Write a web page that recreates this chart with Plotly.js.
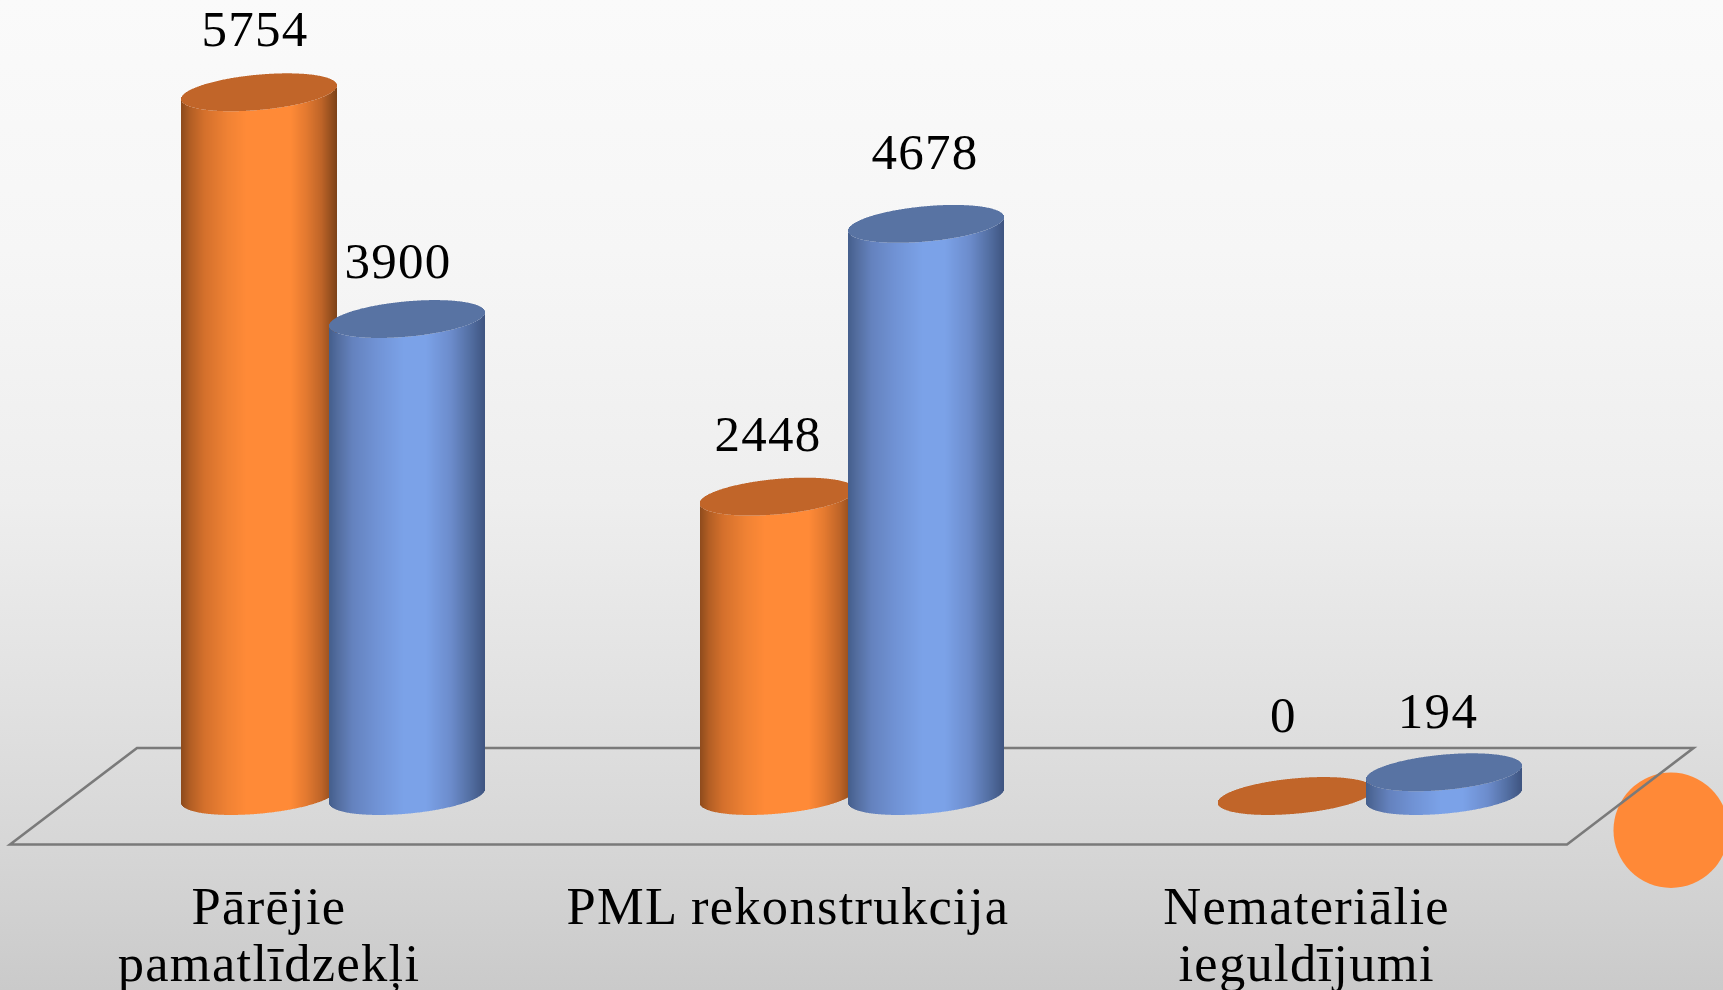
<!DOCTYPE html>
<html><head><meta charset="utf-8">
<script src="https://cdn.plot.ly/plotly-3.0.1.min.js"></script>
<style>
html,body{margin:0;padding:0;width:1723px;height:990px;overflow:hidden;
background:linear-gradient(180deg,#fafafa 0px,#f6f6f6 250px,#eeeeee 500px,#e1e1e1 700px,#d6d6d6 850px,#cacaca 990px);}
#chart{width:1723px;height:990px;}
#chart text{letter-spacing:1.3px;}
</style></head><body><div id="chart"></div>
<script>
// ---- data ----
const catLine1 = ['Pārējie', 'PML rekonstrukcija', 'Nemateriālie'];
const catLine2 = ['pamatlīdzekļi', '', 'ieguldījumi'];
const seriesOrange = [5754, 2448, 0];
const seriesBlue = [3900, 4678, 194];

// ---- layout constants (pixel-like x axis, value y axis) ----
const W = 1723, H = 990;
const baseY = 796, pxPerUnit = 0.1223;
const yv = py => (baseY - py) / pxPerUnit;
const orangeCentres = [259, 777.5, 1295.6];
const blueCentres = [407, 926, 1444];
const catCentres = [269, 788, 1306.6];
const line1Y = 910.5, line2Y = 967.5;
const orangeLabelPos = [[255, 33.5], [768, 438.5], [1283.5, 719.5]];
const blueLabelPos = [[398, 265.5], [925, 156.5], [1438, 715.5]];
const A = 78, TILT = 6.8 / 78, B = 17.7;

const orangeStops = [[0,[140,74,28]],[0.06,[178,94,36]],[0.15,[212,112,44]],[0.3,[240,130,52]],[0.42,[255,138,55]],[0.7,[255,138,55]],[0.8,[228,122,48]],[0.9,[190,100,40]],[1,[124,66,24]]];
const blueStops = [[0,[68,94,140]],[0.06,[84,110,160]],[0.15,[100,130,190]],[0.3,[112,146,212]],[0.48,[123,162,232]],[0.62,[123,162,232]],[0.78,[108,140,204]],[0.9,[84,112,164]],[1,[62,84,128]]];
const orangeCap = '#c16529', blueCap = '#5873a3';

function grad(stops, t) {
  for (let i = 1; i < stops.length; i++) {
    if (t <= stops[i][0]) {
      const [t0, c0] = stops[i - 1], [t1, c1] = stops[i];
      const f = (t - t0) / (t1 - t0);
      return 'rgb(' + c0.map((c, k) => Math.round(c + (c1[k] - c) * f)).join(',') + ')';
    }
  }
  return 'rgb(' + stops[stops.length - 1][1].join(',') + ')';
}

function cylinder(cx, value, stops, capColor) {
  const xs = [], base = [], bodyH = [], colors = [], capBase = [], capH = [];
  for (let px = Math.round(cx - A); px < Math.round(cx + A); px++) {
    const u = px + 0.5 - cx;
    const r = Math.sqrt(Math.max(0, 1 - (u / A) * (u / A)));
    const lower = (TILT * u - B * r) / pxPerUnit;
    const upper = (TILT * u + B * r) / pxPerUnit;
    xs.push(px + 0.5);
    base.push(lower);
    bodyH.push(value);
    colors.push(grad(stops, (u + A) / (2 * A)));
    capBase.push(value + lower);
    capH.push(upper - lower);
  }
  const common = {type: 'bar', x: xs, width: 1, showlegend: false, hoverinfo: 'skip'};
  return [
    Object.assign({}, common, {base: base, y: bodyH, marker: {color: colors, line: {width: 0}}}),
    Object.assign({}, common, {base: capBase, y: capH, marker: {color: capColor, line: {width: 0}}})
  ];
}

const traces = [];
seriesOrange.forEach((v, i) => {
  traces.push(...cylinder(orangeCentres[i], v, orangeStops, orangeCap));
  traces.push(...cylinder(blueCentres[i], seriesBlue[i], blueStops, blueCap));
});

const font = s => ({family: '"Liberation Serif", serif', size: s, color: '#000000'});
traces.push({type: 'scatter', mode: 'text', x: orangeLabelPos.map(p => p[0]), y: orangeLabelPos.map(p => yv(p[1])),
  text: seriesOrange.map(String), textposition: 'middle center', textfont: font(51), cliponaxis: false, showlegend: false, hoverinfo: 'skip'});
traces.push({type: 'scatter', mode: 'text', x: blueLabelPos.map(p => p[0]), y: blueLabelPos.map(p => yv(p[1])),
  text: seriesBlue.map(String), textposition: 'middle center', textfont: font(51), cliponaxis: false, showlegend: false, hoverinfo: 'skip'});
traces.push({type: 'scatter', mode: 'text', x: catCentres, y: catCentres.map(() => yv(line1Y)),
  text: catLine1, textposition: 'middle center', textfont: font(52.5), cliponaxis: false, showlegend: false, hoverinfo: 'skip'});
traces.push({type: 'scatter', mode: 'text', x: catCentres, y: catCentres.map(() => yv(line2Y)),
  text: catLine2, textposition: 'middle center', textfont: font(52.5), cliponaxis: false, showlegend: false, hoverinfo: 'skip'});

const layout = {
  width: W, height: H, margin: {l: 0, r: 0, t: 0, b: 0, pad: 0},
  paper_bgcolor: 'rgba(0,0,0,0)', plot_bgcolor: 'rgba(0,0,0,0)',
  barmode: 'overlay', showlegend: false,
  xaxis: {range: [0, W], visible: false, fixedrange: true},
  yaxis: {range: [yv(H), yv(0)], visible: false, fixedrange: true},
  shapes: [
    {type: 'circle', layer: 'below', xref: 'x', yref: 'y', x0: 1613.5, x1: 1728.5, y0: yv(888), y1: yv(772.5),
      fillcolor: '#ff8937', line: {width: 0}},
    {type: 'path', layer: 'below', xref: 'x', yref: 'y',
      path: `M 10 ${yv(844.5)} L 137 ${yv(748)} L 1693.5 ${yv(748)} L 1567 ${yv(844.5)} Z`,
      line: {color: '#7a7a7a', width: 2.6}, fillcolor: 'rgba(0,0,0,0)'}
  ]
};
Plotly.newPlot('chart', traces, layout, {displayModeBar: false, staticPlot: true});
</script></body></html>
